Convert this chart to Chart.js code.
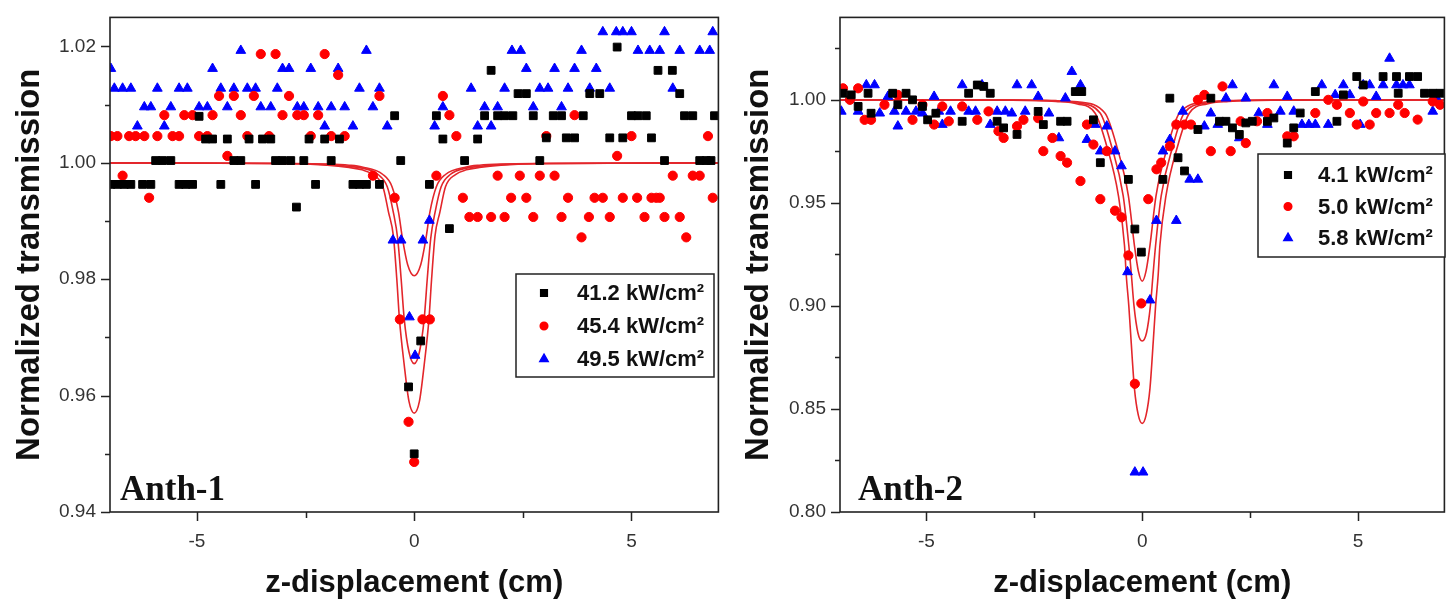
<!DOCTYPE html>
<html>
<head>
<meta charset="utf-8">
<script src="https://cdn.jsdelivr.net/npm/chart.js@4.4.0/dist/chart.umd.min.js"></script>
<style>
  html, body { margin: 0; padding: 0; background: #fff; }
  #wrap { position: relative; width: 1451px; height: 599px; overflow: hidden; }
  #left { position: absolute; left: 0; top: 0; }
  #right { position: absolute; left: 725px; top: 0; }
</style>
</head>
<body>
<div id="wrap">
  <canvas id="left" width="725" height="599"></canvas>
  <canvas id="right" width="726" height="599"></canvas>
</div>
<script>
// ---- Anth-1 data: [z (cm), normalized transmission] ----
const anth1Labels = ['41.2 kW/cm\u00b2', '45.4 kW/cm\u00b2', '49.5 kW/cm\u00b2'];

const anth1Black = [
  [-6.98, 0.9963], [-6.83, 0.9963], [-6.67, 0.9963], [-6.52, 0.9963], [-6.25, 0.9963], [-6.06, 0.9963],
  [-5.95, 1.0004], [-5.79, 1.0004], [-5.60, 1.0004], [-5.41, 0.9963], [-5.26, 0.9963], [-5.10, 0.9963],
  [-4.95, 1.0080], [-4.80, 1.0041], [-4.64, 1.0041], [-4.45, 0.9963], [-4.30, 1.0041], [-4.15, 1.0004],
  [-3.99, 1.0004], [-3.80, 1.0041], [-3.65, 0.9963], [-3.49, 1.0041], [-3.30, 1.0041], [-3.19, 1.0004],
  [-3.03, 1.0004], [-2.84, 1.0004], [-2.71, 0.9924], [-2.54, 1.0004], [-2.42, 1.0041], [-2.27, 0.9963],
  [-2.06, 1.0041], [-1.91, 1.0004], [-1.72, 1.0041], [-1.41, 0.9963], [-1.26, 0.9963], [-1.10, 0.9963],
  [-0.80, 0.9963], [-0.45, 1.0081], [-0.31, 1.0004], [-0.13, 0.9615], [0.00, 0.9500], [0.15, 0.9694],
  [0.35, 0.9963], [0.51, 1.0081], [0.66, 1.0041], [0.81, 0.9887], [1.16, 1.0004], [1.46, 1.0041],
  [1.62, 1.0081], [1.77, 1.0159], [1.92, 1.0081], [2.08, 1.0081], [2.27, 1.0081], [2.39, 1.0119],
  [2.58, 1.0119], [2.74, 1.0081], [2.89, 1.0004], [3.04, 1.0043], [3.20, 1.0081], [3.39, 1.0081],
  [3.50, 1.0043], [3.69, 1.0043], [3.89, 1.0081], [4.04, 1.0119], [4.27, 1.0119], [4.50, 1.0043],
  [4.67, 1.0199], [4.80, 1.0043], [5.00, 1.0081], [5.15, 1.0081], [5.34, 1.0081], [5.46, 1.0043],
  [5.61, 1.0159], [5.76, 1.0004], [5.94, 1.0159], [6.11, 1.0119], [6.22, 1.0081], [6.41, 1.0081],
  [6.57, 1.0004], [6.72, 1.0004], [6.83, 1.0004], [6.91, 1.0081]
];

const anth1Red = [
  [-6.98, 1.0046], [-6.83, 1.0046], [-6.71, 0.9978], [-6.56, 1.0046], [-6.41, 1.0046], [-6.21, 1.0046],
  [-6.10, 0.9940], [-5.91, 1.0046], [-5.75, 1.0082], [-5.56, 1.0046], [-5.41, 1.0046], [-5.29, 1.0082],
  [-5.10, 1.0082], [-4.95, 1.0046], [-4.76, 1.0046], [-4.64, 1.0082], [-4.49, 1.0115], [-4.30, 1.0012],
  [-4.15, 1.0115], [-3.99, 1.0082], [-3.84, 1.0046], [-3.69, 1.0115], [-3.53, 1.0187], [-3.34, 1.0046],
  [-3.19, 1.0187], [-3.03, 1.0082], [-2.88, 1.0115], [-2.69, 1.0082], [-2.54, 1.0082], [-2.38, 1.0046],
  [-2.21, 1.0082], [-2.06, 1.0187], [-1.91, 1.0046], [-1.75, 1.0151], [-1.60, 1.0046], [-0.95, 0.9978],
  [-0.80, 1.0115], [-0.45, 0.9940], [-0.33, 0.9731], [-0.13, 0.9555], [0.00, 0.9486], [0.19, 0.9731],
  [0.36, 0.9731], [0.51, 0.9978], [0.66, 1.0115], [0.81, 1.0082], [0.97, 1.0046], [1.12, 0.9940],
  [1.27, 0.9907], [1.46, 0.9907], [1.77, 0.9907], [1.92, 0.9978], [2.08, 0.9907], [2.23, 0.9940],
  [2.43, 0.9978], [2.58, 0.9940], [2.74, 0.9907], [2.89, 0.9978], [3.04, 1.0046], [3.23, 0.9978],
  [3.39, 0.9907], [3.54, 0.9940], [3.69, 1.0082], [3.85, 0.9872], [4.02, 0.9907], [4.15, 0.9940],
  [4.34, 0.9940], [4.50, 0.9907], [4.67, 1.0012], [4.80, 0.9940], [5.00, 1.0046], [5.13, 0.9940],
  [5.30, 0.9907], [5.46, 0.9940], [5.57, 0.9940], [5.65, 0.9940], [5.76, 0.9907], [5.95, 0.9978],
  [6.11, 0.9907], [6.26, 0.9872], [6.41, 0.9978], [6.57, 0.9978], [6.76, 1.0046], [6.87, 0.9940]
];

const anth1Blue = [
  [-6.98, 1.0162], [-6.90, 1.0128], [-6.71, 1.0128], [-6.52, 1.0128], [-6.37, 1.0063], [-6.21, 1.0096],
  [-6.06, 1.0096], [-5.91, 1.0128], [-5.75, 1.0063], [-5.60, 1.0096], [-5.41, 1.0128], [-5.22, 1.0128],
  [-4.95, 1.0096], [-4.76, 1.0096], [-4.64, 1.0162], [-4.45, 1.0128], [-4.30, 1.0096], [-4.15, 1.0128],
  [-3.99, 1.0193], [-3.84, 1.0128], [-3.65, 1.0128], [-3.53, 1.0096], [-3.30, 1.0096], [-3.15, 1.0128],
  [-3.03, 1.0162], [-2.88, 1.0162], [-2.69, 1.0096], [-2.54, 1.0096], [-2.38, 1.0162], [-2.21, 1.0096],
  [-2.06, 1.0063], [-1.91, 1.0096], [-1.75, 1.0162], [-1.60, 1.0096], [-1.41, 1.0063], [-1.26, 1.0128],
  [-1.10, 1.0193], [-0.95, 1.0096], [-0.80, 1.0128], [-0.62, 1.0063], [-0.49, 0.9867], [-0.30, 0.9867],
  [-0.11, 0.9735], [0.02, 0.9669], [0.20, 0.9867], [0.35, 0.9901], [0.47, 1.0063], [0.66, 1.0096],
  [1.31, 1.0128], [1.46, 1.0063], [1.62, 1.0096], [1.77, 1.0063], [1.92, 1.0096], [2.08, 1.0128],
  [2.25, 1.0193], [2.45, 1.0193], [2.58, 1.0162], [2.74, 1.0096], [2.89, 1.0128], [3.08, 1.0128],
  [3.23, 1.0162], [3.39, 1.0096], [3.54, 1.0128], [3.69, 1.0162], [3.85, 1.0193], [4.04, 1.0128],
  [4.19, 1.0162], [4.34, 1.0225], [4.50, 1.0128], [4.65, 1.0225], [4.80, 1.0225], [5.00, 1.0225],
  [5.15, 1.0193], [5.42, 1.0193], [5.65, 1.0193], [5.76, 1.0225], [5.95, 1.0128], [6.11, 1.0193],
  [6.57, 1.0193], [6.80, 1.0193], [6.87, 1.0225]
];

// fitted curves
const anth1FitA = [
  [-7, 1.0], [-3, 0.9999], [-2, 0.9998], [-1.5, 0.9996], [-1.2, 0.9993], [-0.72, 0.9980], [-0.51, 0.9959],
  [-0.36, 0.9915], [-0.27, 0.9870], [-0.15, 0.9825], [0, 0.9806],
  [0.15, 0.9825], [0.27, 0.9870], [0.36, 0.9915], [0.51, 0.9959], [0.72, 0.9980], [1.2, 0.9993],
  [1.5, 0.9996], [2, 0.9998], [3, 0.9999], [7, 1.0]
];
const anth1FitB = [
  [-7, 1.0], [-3, 0.9999], [-2, 0.9997], [-1.5, 0.9994], [-1.2, 0.9991], [-0.83, 0.9980], [-0.62, 0.9959],
  [-0.48, 0.9915], [-0.38, 0.9870], [-0.30, 0.9800], [-0.23, 0.9732], [-0.12, 0.9675], [0, 0.9655],
  [0.12, 0.9675], [0.23, 0.9732], [0.30, 0.9800], [0.38, 0.9870], [0.48, 0.9915], [0.62, 0.9959],
  [0.83, 0.9980], [1.2, 0.9991], [1.5, 0.9994], [2, 0.9997], [3, 0.9999], [7, 1.0]
];
const anth1FitC = [
  [-7, 1.0], [-3, 0.9999], [-2, 0.9996], [-1.5, 0.9992], [-1.2, 0.9988], [-0.95, 0.9980], [-0.72, 0.9959],
  [-0.59, 0.9915], [-0.48, 0.9875], [-0.40, 0.9800], [-0.34, 0.9732], [-0.23, 0.9653], [-0.12, 0.9590],
  [0, 0.9570], [0.12, 0.9590], [0.23, 0.9653], [0.34, 0.9732], [0.40, 0.9800], [0.48, 0.9875],
  [0.59, 0.9915], [0.72, 0.9959], [0.95, 0.9980], [1.2, 0.9988], [1.5, 0.9992], [2, 0.9996], [3, 0.9999], [7, 1.0]
];

// ---- Anth-2 data ----
const anth2Labels = ['4.1 kW/cm\u00b2', '5.0 kW/cm\u00b2', '5.8 kW/cm\u00b2'];

const anth2Black = [
  [-6.93, 1.0032], [-6.74, 1.0024], [-6.58, 0.9968], [-6.35, 1.0032], [-6.28, 0.9935], [-5.78, 1.0032],
  [-5.66, 0.9976], [-5.47, 1.0032], [-5.32, 1.0000], [-5.09, 0.9968], [-4.97, 0.9903], [-4.78, 0.9935],
  [-4.17, 0.9896], [-4.02, 1.0032], [-3.82, 1.0072], [-3.67, 1.0065], [-3.52, 1.0032], [-3.36, 0.9896],
  [-3.21, 0.9864], [-2.90, 0.9832], [-2.41, 0.9944], [-2.29, 0.9880], [-1.89, 0.9896], [-1.74, 0.9896],
  [-1.55, 1.0040], [-1.40, 1.0040], [-1.13, 0.9903], [-0.97, 0.9695], [-0.32, 0.9614], [-0.17, 0.9373],
  [-0.02, 0.9261], [0.48, 0.9614], [0.64, 1.0008], [0.83, 0.9719], [0.98, 0.9655], [1.29, 0.9856],
  [1.59, 1.0008], [1.79, 0.9896], [1.94, 0.9896], [2.09, 0.9864], [2.25, 0.9832], [2.40, 0.9888],
  [2.55, 0.9896], [2.90, 0.9896], [3.05, 0.9912], [3.36, 0.9790], [3.51, 0.9864], [3.66, 0.9936],
  [4.01, 1.0040], [4.51, 0.9896], [4.66, 1.0024], [4.97, 1.0113], [5.12, 1.0072], [5.58, 1.0113],
  [5.89, 1.0113], [5.93, 1.0032], [6.19, 1.0113], [6.38, 1.0113], [6.54, 1.0032], [6.73, 1.0032], [6.90, 1.0032]
];

const anth2Red = [
  [-6.93, 1.0056], [-6.77, 1.0000], [-6.58, 1.0056], [-6.43, 0.9903], [-6.28, 0.9903], [-5.97, 0.9976],
  [-5.66, 1.0024], [-5.32, 0.9903], [-5.09, 0.9976], [-4.82, 0.9880], [-4.63, 0.9968], [-4.48, 0.9896],
  [-4.17, 0.9968], [-3.82, 0.9903], [-3.56, 0.9944], [-3.33, 0.9848], [-3.21, 0.9815], [-2.90, 0.9872],
  [-2.75, 0.9903], [-2.41, 0.9911], [-2.29, 0.9751], [-2.08, 0.9815], [-1.89, 0.9727], [-1.74, 0.9695],
  [-1.43, 0.9606], [-1.28, 0.9880], [-1.13, 0.9783], [-0.97, 0.9518], [-0.82, 0.9751], [-0.63, 0.9462],
  [-0.48, 0.9430], [-0.32, 0.9245], [-0.17, 0.8622], [-0.02, 0.9012], [0.14, 0.9518], [0.33, 0.9663],
  [0.44, 0.9695], [0.64, 0.9775], [0.79, 0.9880], [0.98, 0.9880], [1.13, 0.9880], [1.29, 1.0000],
  [1.44, 1.0024], [1.59, 0.9751], [1.86, 1.0065], [2.05, 0.9751], [2.28, 0.9896], [2.40, 0.9790],
  [2.66, 0.9896], [2.90, 0.9936], [3.36, 0.9823], [3.51, 0.9823], [4.01, 0.9936], [4.31, 1.0000],
  [4.51, 0.9976], [4.81, 0.9936], [4.97, 0.9880], [5.12, 0.9992], [5.27, 0.9880], [5.42, 0.9936],
  [5.73, 0.9936], [5.93, 0.9976], [6.08, 0.9936], [6.38, 0.9904], [6.73, 0.9992], [6.90, 0.9976]
];

const anth2Blue = [
  [-6.97, 0.9944], [-6.77, 1.0008], [-6.58, 0.9944], [-6.39, 1.0072], [-6.20, 1.0072], [-6.08, 0.9935],
  [-5.89, 1.0016], [-5.74, 0.9944], [-5.66, 0.9872], [-5.47, 0.9944], [-5.24, 0.9944], [-5.09, 0.9935],
  [-4.82, 1.0016], [-4.71, 0.9944], [-4.63, 0.9880], [-4.44, 0.9944], [-4.17, 1.0072], [-4.02, 0.9944],
  [-3.86, 0.9944], [-3.71, 1.0072], [-3.52, 0.9880], [-3.36, 0.9944], [-3.17, 0.9944], [-3.02, 0.9935],
  [-2.90, 1.0072], [-2.71, 0.9944], [-2.56, 1.0072], [-2.41, 1.0016], [-2.16, 0.9935], [-1.93, 0.9815],
  [-1.78, 1.0008], [-1.63, 1.0137], [-1.43, 1.0072], [-1.28, 0.9807], [-1.09, 0.9880], [-0.97, 0.9751],
  [-0.82, 0.9872], [-0.63, 0.9751], [-0.48, 0.9679], [-0.34, 0.9165], [-0.17, 0.8193], [0.02, 0.8193],
  [0.18, 0.9028], [0.33, 0.9414], [0.48, 0.9751], [0.64, 0.9807], [0.79, 0.9414], [0.94, 0.9944],
  [1.10, 0.9614], [1.29, 0.9614], [1.44, 0.9872], [1.59, 0.9935], [1.75, 0.9880], [1.94, 1.0008],
  [2.09, 1.0072], [2.25, 0.9815], [2.40, 1.0008], [2.70, 0.9936], [2.90, 0.9880], [3.05, 1.0072],
  [3.20, 0.9944], [3.36, 1.0016], [3.51, 0.9944], [3.70, 0.9880], [3.86, 0.9880], [4.01, 0.9880],
  [4.16, 1.0072], [4.31, 0.9880], [4.47, 1.0024], [4.66, 1.0072], [4.81, 1.0024], [5.05, 0.9880],
  [5.12, 1.0072], [5.27, 1.0072], [5.42, 1.0016], [5.58, 1.0072], [5.73, 1.0201], [5.89, 1.0072],
  [6.04, 1.0072], [6.19, 1.0072], [6.73, 0.9944], [6.80, 1.0016]
];

const anth2FitA = [
  [-7, 1.0], [-3, 0.9999], [-2, 0.9996], [-1.5, 0.9990], [-0.86, 0.9935], [-0.59, 0.9775], [-0.32, 0.9534],
  [-0.18, 0.9293], [-0.09, 0.9170], [0, 0.9120], [0.09, 0.9170], [0.18, 0.9293], [0.32, 0.9534],
  [0.59, 0.9775], [0.86, 0.9935], [1.5, 0.9990], [2, 0.9996], [3, 0.9999], [7, 1.0]
];
const anth2FitB = [
  [-7, 1.0], [-3, 0.9999], [-2, 0.9994], [-1.5, 0.9985], [-0.97, 0.9935], [-0.71, 0.9775], [-0.44, 0.9534],
  [-0.31, 0.9293], [-0.25, 0.9150], [-0.19, 0.9000], [-0.10, 0.8870], [0, 0.8830], [0.10, 0.8870],
  [0.19, 0.9000], [0.25, 0.9150], [0.31, 0.9293], [0.44, 0.9534], [0.71, 0.9775], [0.97, 0.9935],
  [1.5, 0.9985], [2, 0.9994], [3, 0.9999], [7, 1.0]
];
const anth2FitC = [
  [-7, 1.0], [-3, 0.9998], [-2, 0.9992], [-1.5, 0.9980], [-1.09, 0.9935], [-0.82, 0.9775], [-0.55, 0.9534],
  [-0.41, 0.9293], [-0.37, 0.9150], [-0.31, 0.9000], [-0.26, 0.8840], [-0.18, 0.8600], [-0.09, 0.8470],
  [0, 0.8430], [0.09, 0.8470], [0.18, 0.8600], [0.26, 0.8840], [0.31, 0.9000], [0.37, 0.9150],
  [0.41, 0.9293], [0.55, 0.9534], [0.82, 0.9775], [1.09, 0.9935], [1.5, 0.9980], [2, 0.9992], [3, 0.9998], [7, 1.0]
];

// ---- axis ticks ----
const xTicks = [-5, -2.5, 0, 2.5, 5];
const xTickLabels = ['-5', '', '0', '', '5'];
const anth1YTicks = [0.94, 0.95, 0.96, 0.97, 0.98, 0.99, 1.00, 1.01, 1.02];
const anth1YTickLabels = ['0.94', '', '0.96', '', '0.98', '', '1.00', '', '1.02'];
const anth2YTicks = [0.80, 0.825, 0.85, 0.875, 0.90, 0.925, 0.95, 0.975, 1.00, 1.025];
const anth2YTickLabels = ['0.80', '', '0.85', '', '0.90', '', '0.95', '', '1.00', ''];

const SANS = '"Liberation Sans", Arial, sans-serif';
const markers = [
  { style: 'rect', color: '#000000', radius: 5.5 },
  { style: 'circle', color: '#ff0000', radius: 4.6 },
  { style: 'triangle', color: '#0000ff', radius: 5.6 }
];
const fitColor = '#e3262b';

function toXY(pairs) {
  return pairs.map(p => ({ x: p[0], y: p[1] }));
}

// frame, outward ticks (long for labelled, short for minor), sample name, legend box
const panelDecor = {
  id: 'panelDecor',
  afterDatasetsDraw(chart, args, opts) {
    const ctx = chart.ctx;
    const a = chart.chartArea;
    const xs = chart.scales.x;
    const ys = chart.scales.y;
    ctx.save();
    ctx.strokeStyle = '#222';
    ctx.lineWidth = 1.6;
    ctx.strokeRect(a.left, a.top, a.right - a.left, a.bottom - a.top);

    ctx.lineWidth = 1.5;
    ctx.beginPath();
    xTicks.forEach((v, i) => {
      const px = Math.round(xs.getPixelForValue(v)) + 0.5;
      const len = xTickLabels[i] ? 9 : 6;
      ctx.moveTo(px, a.bottom);
      ctx.lineTo(px, a.bottom + len);
    });
    opts.yTicks.forEach((v, i) => {
      const py = Math.round(ys.getPixelForValue(v)) + 0.5;
      const len = opts.yTickLabels[i] ? 9 : 5;
      ctx.moveTo(a.left, py);
      ctx.lineTo(a.left - len, py);
    });
    ctx.stroke();

    ctx.fillStyle = '#111';
    ctx.font = 'bold 35px "Liberation Serif", "Times New Roman", serif';
    ctx.textBaseline = 'alphabetic';
    ctx.textAlign = 'left';
    ctx.fillText(opts.name, a.left + opts.nameDx, a.bottom - 12);

    const b = opts.box;
    ctx.fillStyle = '#fff';
    ctx.fillRect(b.x, b.y, b.w, b.h);
    ctx.lineWidth = 1.5;
    ctx.strokeStyle = '#222';
    ctx.strokeRect(b.x, b.y, b.w, b.h);
    ctx.font = 'bold 22px ' + SANS;
    ctx.textBaseline = 'middle';
    chart.data.datasets.slice(0, 3).forEach((ds, i) => {
      const cy = b.y + b.first + i * b.row;
      ctx.fillStyle = ds.pointBackgroundColor;
      ctx.strokeStyle = ds.pointBackgroundColor;
      Chart.helpers.drawPoint(ctx, { pointStyle: ds.pointStyle, radius: ds.pointRadius - 0.8, rotation: 0, borderWidth: 1 }, b.x + b.mx, cy);
      ctx.fillStyle = '#111';
      ctx.fillText(ds.label, b.x + b.tx, cy + 1);
    });
    ctx.restore();
  }
};

function makePanel(id, cfg) {
  const datasets = cfg.series.map((s, i) => ({
    label: cfg.labels[i],
    data: toXY(s),
    showLine: false,
    pointStyle: markers[i].style,
    pointRadius: markers[i].radius,
    pointBackgroundColor: markers[i].color,
    pointBorderColor: markers[i].color,
    pointBorderWidth: 1
  }));
  cfg.fits.forEach(f => datasets.push({
    label: '',
    data: toXY(f),
    showLine: true,
    borderColor: fitColor,
    borderWidth: 1.6,
    pointRadius: 0,
    cubicInterpolationMode: 'monotone',
    fill: false
  }));

  return new Chart(document.getElementById(id), {
    type: 'scatter',
    data: { datasets: datasets },
    plugins: [panelDecor],
    options: {
      responsive: false,
      animation: false,
      devicePixelRatio: 1,
      layout: { padding: { left: 0, right: cfg.padRight, top: 14, bottom: 0 } },
      plugins: {
        legend: { display: false },
        tooltip: { enabled: false },
        panelDecor: { name: cfg.name, nameDx: cfg.nameDx, box: cfg.box, yTicks: cfg.yTicks, yTickLabels: cfg.yTickLabels }
      },
      scales: {
        x: {
          type: 'linear',
          min: -7,
          max: 7,
          afterBuildTicks: s => { s.ticks = xTicks.map(v => ({ value: v })); },
          afterFit: s => { s.height = 87; },
          ticks: {
            autoSkip: false,
            maxRotation: 0,
            padding: 10,
            color: '#333',
            font: { family: SANS, size: 19 },
            callback: (v, i) => xTickLabels[i]
          },
          grid: { drawOnChartArea: false, tickLength: 8, tickColor: 'rgba(0,0,0,0)' },
          border: { display: false },
          title: {
            display: true,
            text: 'z-displacement (cm)',
            color: '#111',
            font: { family: SANS, size: 31, weight: 'bold', lineHeight: 1 },
            padding: { top: 0, bottom: 0 }
          }
        },
        y: {
          type: 'linear',
          min: cfg.yMin,
          max: cfg.yMax,
          afterBuildTicks: s => { s.ticks = cfg.yTicks.map(v => ({ value: v })); },
          afterFit: s => { s.width = cfg.yWidth; },
          ticks: {
            autoSkip: false,
            padding: 6,
            color: '#333',
            font: { family: SANS, size: 19 },
            callback: (v, i) => cfg.yTickLabels[i]
          },
          grid: { drawOnChartArea: false, tickLength: 8, tickColor: 'rgba(0,0,0,0)' },
          border: { display: false },
          title: {
            display: true,
            text: 'Normalized transmission',
            color: '#111',
            font: { family: SANS, size: 33, weight: 'bold' },
            padding: { top: cfg.titlePad, bottom: 0 }
          }
        }
      }
    }
  });
}

makePanel('left', {
  name: 'Anth-1',
  nameDx: 10,
  labels: anth1Labels,
  series: [anth1Black, anth1Red, anth1Blue],
  fits: [anth1FitA, anth1FitB, anth1FitC],
  yMin: 0.94,
  yMax: 1.025,
  yTicks: anth1YTicks,
  yTickLabels: anth1YTickLabels,
  yWidth: 110,
  padRight: 5,
  titlePad: 10,
  box: { x: 516, y: 274, w: 198, h: 103, first: 19, row: 33, mx: 28, tx: 61 }
});

makePanel('right', {
  name: 'Anth-2',
  nameDx: 18,
  labels: anth2Labels,
  series: [anth2Black, anth2Red, anth2Blue],
  fits: [anth2FitA, anth2FitB, anth2FitC],
  yMin: 0.80,
  yMax: 1.04,
  yTicks: anth2YTicks,
  yTickLabels: anth2YTickLabels,
  yWidth: 115,
  padRight: 3,
  titlePad: 14,
  box: { x: 533, y: 154, w: 187, h: 103, first: 21, row: 31.5, mx: 30, tx: 60 }
});
</script>
</body>
</html>
